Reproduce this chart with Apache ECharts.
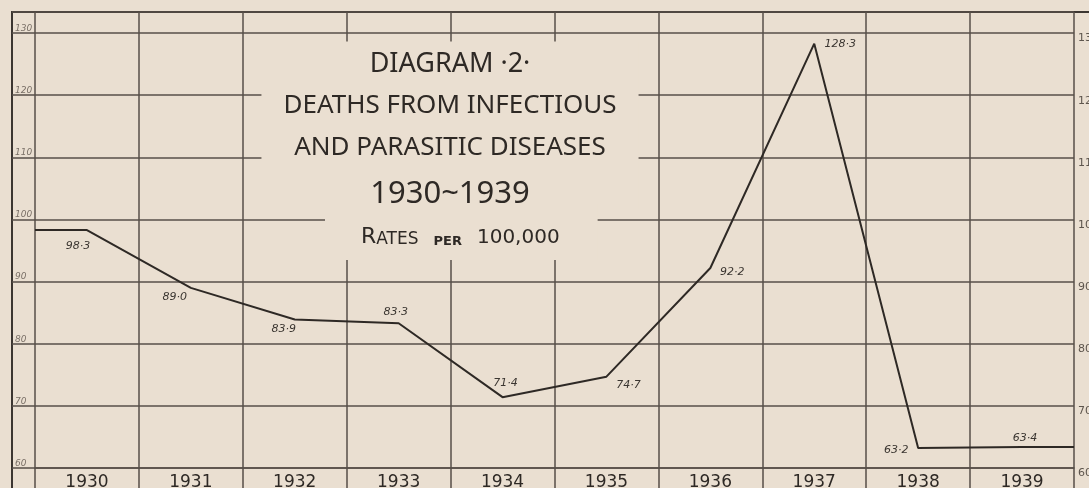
<!DOCTYPE html>
<html lang="en" style="height: 100%">
<head>
  <meta charset="utf-8">
</head>
<body style="height: 100%; margin: 0; background: #eadfd1">
  <div id="container" style="width: 1089px; height: 488px"></div>

  <script type="text/javascript" src="https://fastly.jsdelivr.net/npm/echarts@6/dist/echarts.min.js"></script>
  <script type="text/javascript">
    // data
    var years = ['1930', '1931', '1932', '1933', '1934', '1935', '1936', '1937', '1938', '1939'];
    var rates = [98.3, 89.0, 83.9, 83.3, 71.4, 74.7, 92.2, 128.3, 63.2, 63.4];
    var rateLabels = ['98·3', '89·0', '83·9', '83·3', '71·4', '74·7', '92·2', '128·3', '63·2', '63·4'];

    var paper = '#eadfd1';
    var ink = '#2e2925';
    var rule = '#574f48';

    // where each hand-written value sits next to its point (px from the point)
    var labelShift = [
      [-9, 16], [-16, 9], [-11, 10], [-3, -11], [3, -14],
      [22, 8], [22, 4], [26, 0], [-22, 2], [3, -9]
    ];

    // line points at the middle of each year band, plus the run-in / run-out to the frame
    var lineData = [{ value: [0, rates[0]], label: { show: false } }];
    rates.forEach(function (v, i) {
      lineData.push({
        value: [i + 0.5, v],
        label: {
          show: true,
          position: 'inside',
          offset: labelShift[i],
          formatter: rateLabels[i]
        }
      });
    });
    lineData.push({ value: [years.length, rates[rates.length - 1]], label: { show: false } });

    var dom = document.getElementById('container');
    var myChart = echarts.init(dom, null, { renderer: 'canvas' });

    function tens(v) {
      return v % 10 === 0 ? String(v) : '';
    }

    var option = {
      backgroundColor: paper,
      animation: false,
      title: [
        {
          text: '{a|DIAGRAM ·2·}\n{b|DEATHS FROM INFECTIOUS}\n{b|AND PARASITIC DISEASES}\n{c|1930~1939}',
          left: 428,
          top: 34,
          textAlign: 'center',
          padding: [9, 22, 0, 22],
          backgroundColor: paper,
          textStyle: {
            color: ink,
            fontFamily: 'Noto Sans',
            fontWeight: 'normal',
            rich: {
              a: { fontSize: 27, lineHeight: 42, color: ink, fontFamily: 'Noto Sans', fontWeight: 'normal' },
              b: { fontSize: 26, lineHeight: 42, color: ink, fontFamily: 'Noto Sans', fontWeight: 'normal' },
              c: { fontSize: 31, lineHeight: 50, color: ink, fontFamily: 'Noto Sans', fontWeight: 'normal' }
            }
          }
        },
        {
          text: '{r|R}{s|ATES}   {p|PER}   {n|100,000}',
          left: 325,
          top: 200,
          padding: [22, 38, 12, 36],
          backgroundColor: paper,
          textStyle: {
            color: ink,
            fontWeight: 'normal',
            rich: {
              r: { fontSize: 22, lineHeight: 26, color: ink, fontFamily: 'DejaVu Sans', fontWeight: 'normal', verticalAlign: 'bottom' },
              s: { fontSize: 17, lineHeight: 26, color: ink, fontFamily: 'DejaVu Sans', fontWeight: 'normal', verticalAlign: 'bottom' },
              p: { fontSize: 13, lineHeight: 26, color: ink, fontFamily: 'DejaVu Sans', fontWeight: 'bold', verticalAlign: 'bottom' },
              n: { fontSize: 20, lineHeight: 26, color: ink, fontFamily: 'DejaVu Sans', fontWeight: 'normal', verticalAlign: 'bottom' }
            }
          }
        }
      ],
      grid: {
        left: 35,
        right: 15,
        top: 12,
        bottom: 20,
        outerBoundsMode: 'none'
      },
      xAxis: [
        {
          type: 'category',
          data: years,
          boundaryGap: true,
          axisLine: { show: true, lineStyle: { color: rule, width: 1.5 } },
          axisTick: { show: true, alignWithLabel: false, length: 20, lineStyle: { color: rule, width: 1.5 } },
          splitLine: { show: true, lineStyle: { color: rule, width: 1.5 } },
          axisLabel: {
            color: ink,
            fontFamily: 'DejaVu Sans',
            fontSize: 17,
            margin: 6
          }
        },
        {
          type: 'value',
          min: 0,
          max: years.length,
          show: false
        }
      ],
      yAxis: [
        {
          type: 'value',
          min: 60,
          max: 133.4,
          interval: 10,
          axisLine: { show: false },
          axisTick: { show: true, inside: false, length: 23, lineStyle: { color: rule, width: 1.5 } },
          splitLine: { show: true, lineStyle: { color: rule, width: 1.5 } },
          axisLabel: {
            margin: 20,
            align: 'left',
            verticalAlign: 'bottom',
            color: '#7a7067',
            fontFamily: 'DejaVu Sans',
            fontStyle: 'italic',
            fontSize: 9,
            formatter: tens
          }
        },
        {
          type: 'value',
          position: 'right',
          min: 60,
          max: 133.4,
          interval: 10,
          axisLine: { show: false },
          axisTick: { show: false },
          splitLine: { show: false },
          axisLabel: {
            margin: 4,
            verticalAlign: 'top',
            color: '#5d554d',
            fontFamily: 'DejaVu Sans',
            fontSize: 11,
            formatter: tens
          }
        }
      ],
      graphic: [
        {
          type: 'rect',
          shape: { x: 12, y: 12, width: 1100, height: 500 },
          style: { fill: 'none', stroke: '#3c3631', lineWidth: 2 },
          silent: true
        }
      ],
      series: [
        {
          name: 'Rates',
          type: 'line',
          xAxisIndex: 1,
          yAxisIndex: 0,
          data: lineData,
          symbol: 'circle',
          symbolSize: 0.1,
          showSymbol: true,
          itemStyle: { color: ink },
          lineStyle: { color: ink, width: 2 },
          z: 5,
          label: {
            color: '#3b3631',
            fontFamily: 'DejaVu Sans',
            fontStyle: 'italic',
            fontSize: 11
          }
        }
      ]
    };

    myChart.setOption(option);
    window.addEventListener('resize', myChart.resize);
  </script>
</body>
</html>
